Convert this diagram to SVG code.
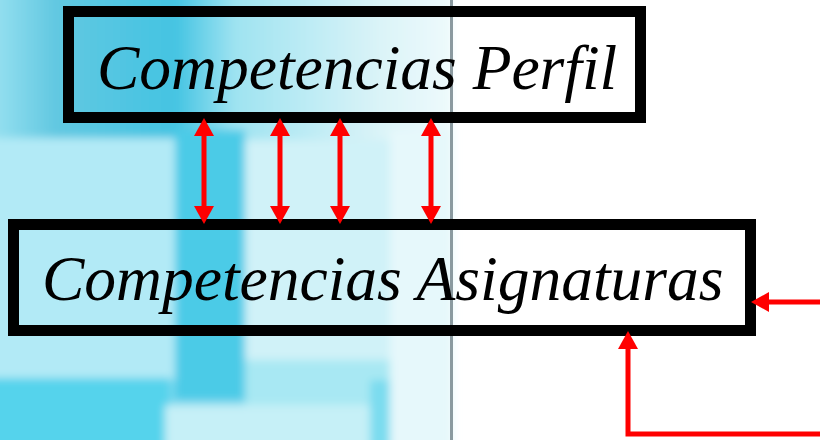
<svg xmlns="http://www.w3.org/2000/svg" width="820" height="440" viewBox="0 0 820 440">
<style>
.box{fill:none;stroke:#000;stroke-width:11}
.lbl{font-family:"Liberation Serif","Times New Roman",Times,serif;font-style:italic;font-weight:400;font-size:63.5px;fill:#000}
.conn{fill:none;stroke:#ff0000;stroke-width:5}
.head{fill:#ff0000}
</style>
<defs>
<path id="hd" class="head" d="M0,0 L-18,-10 L-18,10 Z"/>
<filter id="blur" x="-0.1" y="-0.1" width="1.2" height="1.2"><feGaussianBlur stdDeviation="4"/></filter>
<linearGradient id="gTop" x1="0" y1="0" x2="1" y2="0">
<stop offset="0" stop-color="#9ae2f1"/>
<stop offset="0.14" stop-color="#62c8e1"/>
<stop offset="0.4" stop-color="#44c4e2"/>
<stop offset="0.53" stop-color="#9fe3f1"/>
<stop offset="0.85" stop-color="#dcf4f8"/>
<stop offset="1" stop-color="#eefafc"/>
</linearGradient>
</defs>
<rect width="820" height="440" fill="#ffffff"/>
<g id="background">
<g filter="url(#blur)">
<rect x="-10" y="-10" width="463" height="460" fill="#7fd9ee"/>
<rect x="-10" y="-10" width="463" height="150" fill="url(#gTop)"/>
<rect x="-10" y="138" width="185" height="242" fill="#b2eaf6"/>
<rect x="175" y="130" width="70" height="270" fill="#4ccbe7"/>
<rect x="245" y="140" width="145" height="235" fill="#d0f2f8"/>
<rect x="390" y="130" width="63" height="320" fill="#e6f8fb"/>
<rect x="245" y="360" width="145" height="45" fill="#a8e8f3"/>
<rect x="-10" y="378" width="180" height="72" fill="#55d3ec"/>
<rect x="165" y="405" width="220" height="45" fill="#c6f0f7"/>
<rect x="370" y="380" width="20" height="70" fill="#7adcef"/>
</g>
<rect x="450" y="0" width="3" height="440" fill="#8a9aa0"/>
</g>
<g id="node-perfil">
<rect class="box" x="68.5" y="11.5" width="572" height="106"/>
<text class="lbl" x="97" y="89">Competencias Perfil</text>
</g>
<g id="node-asignaturas">
<rect class="box" x="13.5" y="224.5" width="737" height="106"/>
<text class="lbl" x="42" y="300">Competencias Asignaturas</text>
</g>
<g id="connectors">
<path class="conn" d="M204,130 V212"/>
<path class="conn" d="M280,130 V212"/>
<path class="conn" d="M340,130 V212"/>
<path class="conn" d="M431,130 V212"/>
<use href="#hd" transform="translate(204,118) rotate(-90)"/>
<use href="#hd" transform="translate(204,224) rotate(90)"/>
<use href="#hd" transform="translate(280,118) rotate(-90)"/>
<use href="#hd" transform="translate(280,224) rotate(90)"/>
<use href="#hd" transform="translate(340,118) rotate(-90)"/>
<use href="#hd" transform="translate(340,224) rotate(90)"/>
<use href="#hd" transform="translate(431,118) rotate(-90)"/>
<use href="#hd" transform="translate(431,224) rotate(90)"/>
<path class="conn" d="M820,302 H765"/>
<use href="#hd" transform="translate(751,302) rotate(180)"/>
<path class="conn" d="M820,434 H628 V345"/>
<use href="#hd" transform="translate(628,331) rotate(-90)"/>
</g>
</svg>
